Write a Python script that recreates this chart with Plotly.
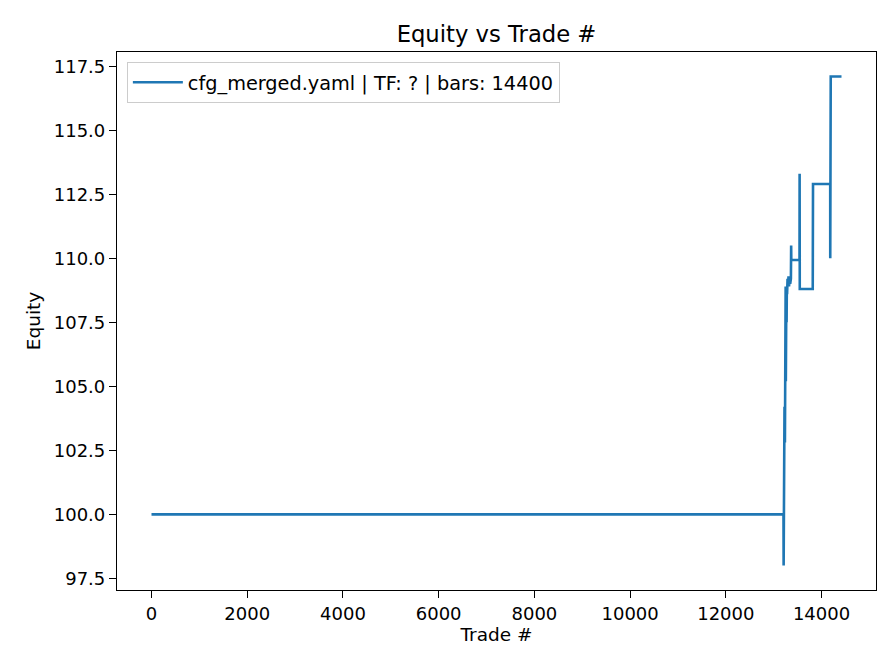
import plotly.graph_objects as go

# Equity curve breakpoints (trade #, equity)
trade_no = [0, 13205, 13208, 13211, 13214, 13217, 13220, 13223, 13226, 13229, 13232,
            13235, 13238, 13242, 13246, 13250, 13254, 13258, 13262, 13266, 13270,
            13275, 13280, 13290, 13300, 13310, 13320, 13330, 13345, 13360, 13365,
            13368, 13540, 13542, 13545, 13816, 13819, 13822, 14181, 14182, 14184,
            14186, 14188, 14190, 14192, 14417]
equity = [100.0, 100.0, 98.0, 102.4, 104.1, 102.8, 103.9, 102.6, 104.2, 103.0, 104.4,
          102.8, 104.5, 108.6, 104.8, 108.9, 105.2, 108.7, 106.0, 108.9, 107.5,
          108.8, 108.6, 109.2, 108.9, 109.3, 108.9, 109.1, 109.0, 109.2, 110.5,
          109.93, 109.93, 113.3, 108.8, 108.8, 112.7, 112.9, 112.9, 110.0, 114.5,
          116.3, 114.8, 116.0, 117.1, 117.1]

x_ticks = [0, 2000, 4000, 6000, 8000, 10000, 12000, 14000]
y_ticks = [97.5, 100.0, 102.5, 105.0, 107.5, 110.0, 112.5, 115.0, 117.5]

font = "DejaVu Sans"
fs = 18

fig = go.Figure()
fig.add_trace(go.Scatter(
    x=trade_no, y=equity, mode="lines",
    line=dict(color="#1f77b4", width=2.6),
    name="cfg_merged.yaml | TF: ? | bars: 14400",
    showlegend=True,
))

xmax = max(trade_no)
ymin, ymax = min(equity), max(equity)
xpad = 0.05 * xmax
ypad = 0.05 * (ymax - ymin)

axis_common = dict(
    showgrid=False, zeroline=False, showline=True, linecolor="black", linewidth=1.2,
    mirror=True, ticks="outside", ticklen=7, tickwidth=1.2, tickcolor="black",
    tickfont=dict(family=font, size=fs, color="black"),
)

W, H = 888, 664  # page body offsets figure by 8px
fig.update_layout(
    width=W, height=H,
    paper_bgcolor="white", plot_bgcolor="white",
    margin=dict(l=109, r=20, t=44, b=82),
    title=dict(text="Equity vs Trade #", x=((117 + 876) / 2 - 8) / W, xanchor="center",
               y=1 - (34 - 8) / H, yanchor="middle",
               font=dict(family=font, size=22.7, color="black")),
    xaxis=dict(range=[-xpad, xmax + xpad], tickvals=x_ticks,
               ticktext=[str(v) for v in x_ticks],
               title=dict(text="Trade #", font=dict(family=font, size=18.5, color="black"),
                          standoff=4),
               **axis_common),
    yaxis=dict(range=[ymin - ypad, ymax + ypad], tickvals=y_ticks,
               ticktext=[f"{v:.1f}" for v in y_ticks],
               title=dict(text="Equity", font=dict(family=font, size=18.5, color="black"),
                          standoff=8),
               **axis_common),
    legend=dict(x=0.013, y=0.981, xanchor="left", yanchor="top", itemwidth=50,
                bgcolor="rgba(255,255,255,0.8)", bordercolor="#cccccc", borderwidth=1,
                font=dict(family=font, size=19.3, color="black")),
    showlegend=True,
)

fig.write_html("out.html")
